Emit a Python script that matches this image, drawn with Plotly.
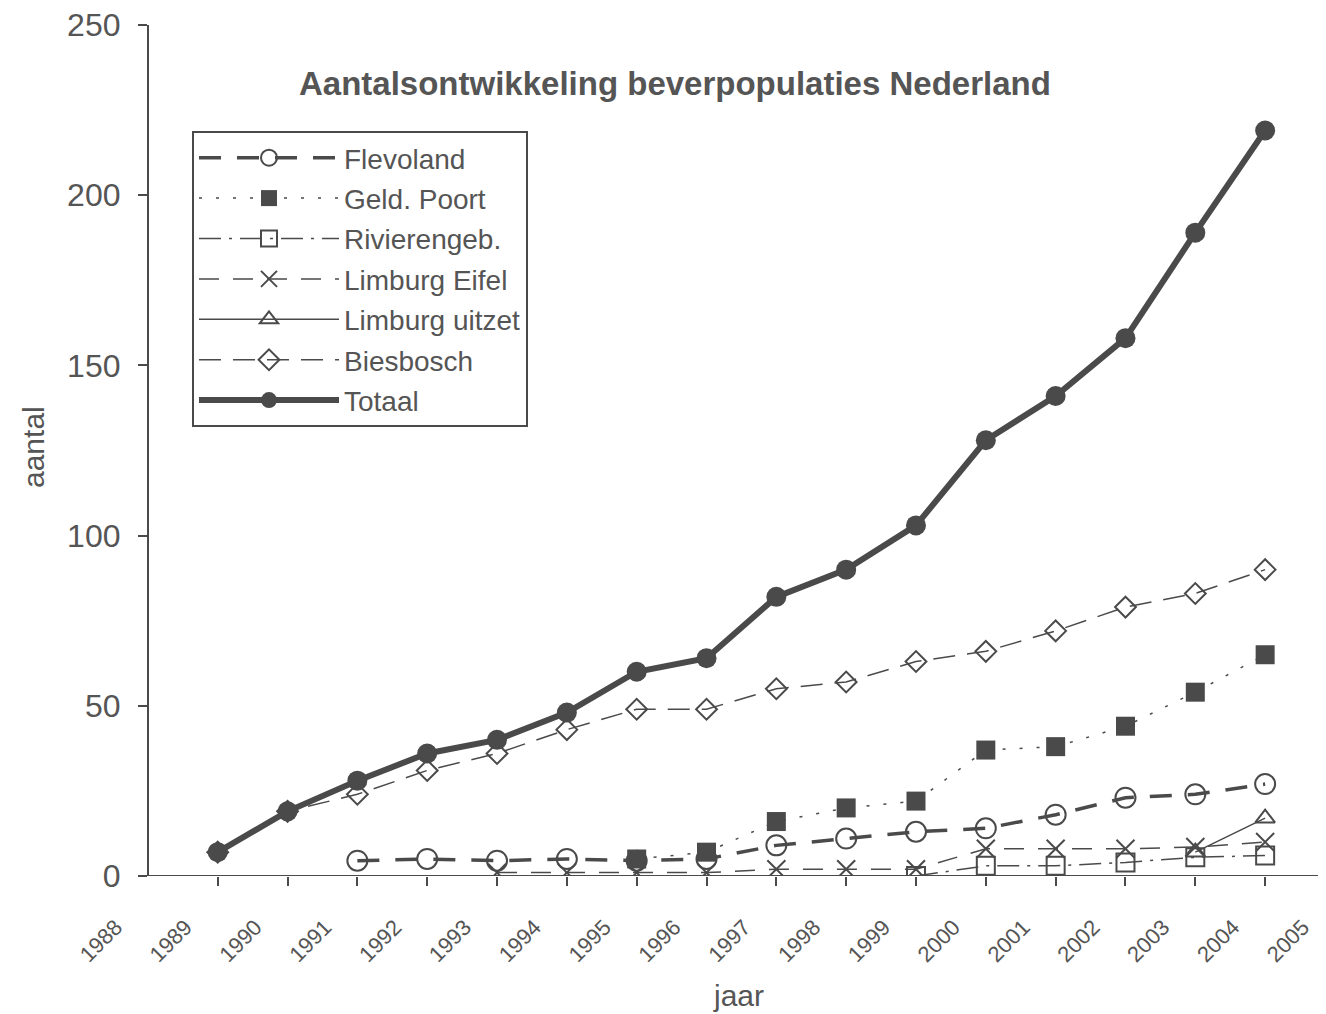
import plotly.graph_objects as go

# ---- data ----
years = [1989, 1990, 1991, 1992, 1993, 1994, 1995, 1996,
         1997, 1998, 1999, 2000, 2001, 2002, 2003, 2004]
label_years = list(range(1988, 2006))

flevoland = [None, None, 4.5, 5, 4.5, 5, 4.5, 5, 9, 11, 13, 14, 18, 23, 24, 27]
geld_poort = [None, None, None, None, None, None, 5, 7, 16, 20, 22, 37, 38, 44, 54, 65]
rivierengeb = [None, None, None, None, None, None, None, None, None, None, 0, 3, 3, 4, 5.5, 6]
limburg_eifel = [None, None, None, None, 1, 1, 1, 1, 2, 2, 2, 8, 8, 8, 8.5, 10]
limburg_uitzet = [None, None, None, None, None, None, None, None, None, None, None, None, None, None, 7, 17]
biesbosch = [7, 19, 24, 31, 36, 43, 49, 49, 55, 57, 63, 66, 72, 79, 83, 90]
totaal = [7, 19, 28, 36, 40, 48, 60, 64, 82, 90, 103, 128, 141, 158, 189, 219]

y_ticks = [0, 50, 100, 150, 200, 250]

# ---- layout helpers ----
base = 1988
xpos = [y - base for y in years]
label_pos = [y - base - 0.46 for y in label_years]
xmin, xmax = -0.7, 16.8

INK = "#4a4a4a"
TXT = "#555555"
FONT = "Liberation Sans, Arial, sans-serif"

# page body has an 8px margin; plot area in page px: x 99..1321, y 25..876
PX0, PX1, PY0, PY1 = 99, 1321, 25, 876


def px(x):
    return (x - PX0) / (PX1 - PX0)


def py(y):
    return (PY1 - y) / (PY1 - PY0)


series = [
    ("Flevoland", flevoland, dict(width=3.5, dash="22px,16px"),
     dict(symbol="circle-open", size=20, line=dict(width=2))),
    ("Geld. Poort", geld_poort, dict(width=1.5, dash="3px,14px"),
     dict(symbol="square", size=19)),
    ("Rivierengeb.", rivierengeb, dict(width=1.5, dash="22px,8px,3px,8px"),
     dict(symbol="square-open", size=18, line=dict(width=2))),
    ("Limburg Eifel", limburg_eifel, dict(width=1.5, dash="20px,14px"),
     dict(symbol="x-thin-open", size=18, line=dict(width=2))),
    ("Limburg uitzet", limburg_uitzet, dict(width=1.5),
     dict(symbol="triangle-up-open", size=17, line=dict(width=2))),
    ("Biesbosch", biesbosch, dict(width=1.5, dash="22px,12px"),
     dict(symbol="diamond-open", size=16, line=dict(width=2))),
    ("Totaal", totaal, dict(width=6),
     dict(symbol="circle", size=20)),
]

fig = go.Figure()
for name, vals, ln, mk in series:
    ln = dict(ln, color=INK)
    mk = dict(mk, color=INK)
    if "line" in mk:
        mk["line"] = dict(mk["line"], color=INK)
    fig.add_trace(go.Scatter(
        x=xpos, y=vals, name=name, mode="lines+markers",
        line=ln, marker=mk, connectgaps=False, legendgroup=name,
    ))

fig.update_layout(
    width=1318, height=1006,
    margin=dict(l=91, r=5, t=17, b=138, autoexpand=False),
    paper_bgcolor="white", plot_bgcolor="white",
    font=dict(family=FONT, color=TXT),
    showlegend=True,
    legend=dict(
        x=px(192), y=py(131), xanchor="left", yanchor="top",
        bgcolor="white", bordercolor=INK, borderwidth=2,
        font=dict(size=28, color=TXT, family=FONT),
        itemwidth=140, tracegroupgap=1,
    ),
    xaxis=dict(
        range=[xmin, xmax], showgrid=False, zeroline=False, showline=False,
        automargin=False, ticklabeloverflow="allow",
        tickmode="array", tickvals=label_pos, ticktext=[str(y) for y in label_years],
        tickangle=-45, ticks="", ticklabelstandoff=33,
        tickfont=dict(size=22, color=TXT, family=FONT),
        minor=dict(tickmode="array", tickvals=xpos, ticks="outside",
                   ticklen=9, tickwidth=2, tickcolor=INK),
    ),
    yaxis=dict(
        range=[0, 250], anchor="free", position=(0 - xmin) / (xmax - xmin),
        automargin=False, ticklabeloverflow="allow",
        showgrid=False, zeroline=False, showline=True, linewidth=2, linecolor=INK,
        tickmode="array", tickvals=y_ticks, ticks="outside", ticklen=9,
        tickwidth=2, tickcolor=INK, ticklabelstandoff=11,
        tickfont=dict(size=32, color=TXT, family=FONT),
    ),
    shapes=[dict(type="line", xref="x", yref="y", x0=0, x1=xmax, y0=0, y1=0,
                 line=dict(color=INK, width=2), layer="below")],
    annotations=[
        dict(text="<b>Aantalsontwikkeling beverpopulaties Nederland</b>",
             xref="paper", yref="paper", x=px(675), y=py(83),
             xanchor="center", yanchor="middle",
             showarrow=False, font=dict(size=33, color=TXT, family=FONT)),
        dict(text="aantal", xref="paper", yref="paper",
             x=px(33), y=py(447), textangle=-90,
             xanchor="center", yanchor="middle",
             showarrow=False, font=dict(size=30, color=TXT, family=FONT)),
        dict(text="jaar", xref="paper", yref="paper",
             x=px(738), y=py(995), xanchor="center", yanchor="middle",
             showarrow=False, font=dict(size=30, color=TXT, family=FONT)),
    ],
)

fig.write_html("out.html")
